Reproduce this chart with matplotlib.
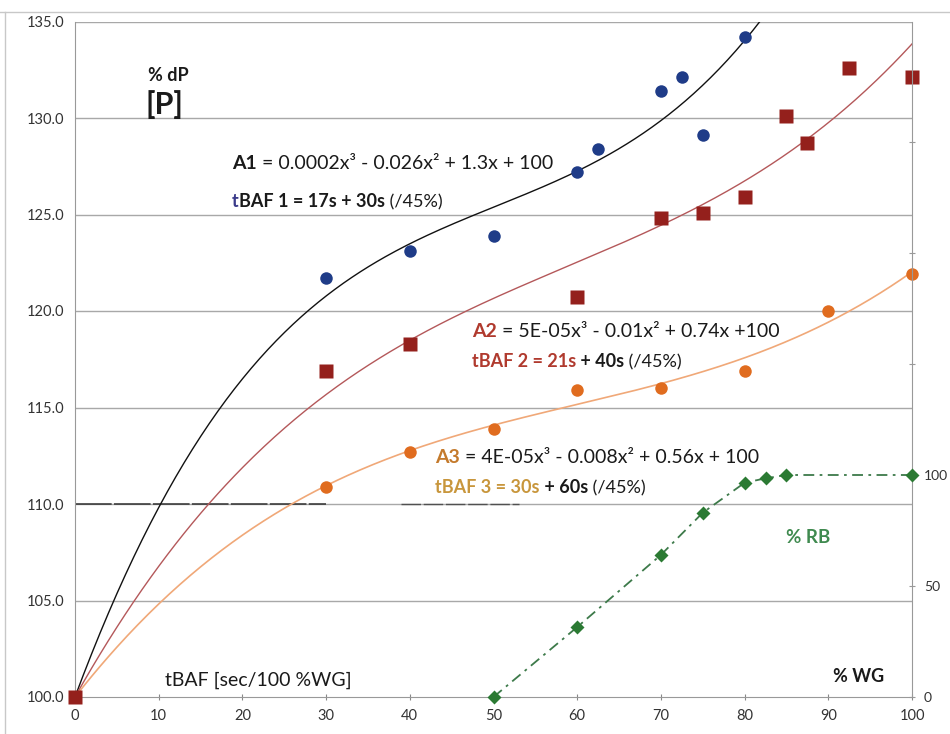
import numpy as np
import matplotlib
matplotlib.use("Agg")
import matplotlib.pyplot as plt

plt.rcParams['font.family'] = ['Lato', 'DejaVu Sans']

# data
wg_1 = [0, 30, 40, 50, 60, 62.5, 70, 72.5, 75, 80]
dp_1 = [100, 121.7, 123.1, 123.9, 127.2, 128.4, 131.4, 132.1, 129.1, 134.2]

wg_2 = [0, 30, 40, 60, 70, 75, 80, 85, 87.5, 92.5, 100]
dp_2 = [100, 116.9, 118.3, 120.7, 124.8, 125.1, 125.9, 130.1, 128.7, 132.6, 132.1]

wg_3 = [0, 30, 40, 50, 60, 70, 80, 90, 100]
dp_3 = [100, 110.9, 112.7, 113.9, 115.9, 116.0, 116.9, 120.0, 121.9]

wg_rb = [50, 60, 70, 75, 80, 82.5, 85, 100]
rb = [0, 31.5, 64, 83, 96.5, 98.5, 100, 100]

x_ticks = list(range(0, 101, 10))
y_ticks = [100, 105, 110, 115, 120, 125, 130, 135]
rb_ticks = [0, 50, 100, 150, 200, 250]
rb_labels = ['0', '50', '100', '', '', '']


def trend(x, y):
    # cubic trendline with intercept fixed at 100 (like excel)
    x = np.array(x, dtype=float)
    y = np.array(y, dtype=float)
    A = np.column_stack([x**3, x**2, x])
    coef = np.linalg.lstsq(A, y - 100, rcond=None)[0]
    xs = np.linspace(0, 100, 400)
    return xs, coef[0]*xs**3 + coef[1]*xs**2 + coef[2]*xs + 100


fig = plt.figure(figsize=(9.5, 7.34), dpi=100)
ax = fig.add_axes([75/950, 1 - 697/734, (912-75)/950, (697-21.5)/734])

grid_col = '#a8a8a8'
for v in y_ticks[1:]:
    ax.axhline(v, color=grid_col, lw=1, zorder=0)
ax.axhline(110, xmin=0, xmax=0.3, color='#303030', lw=1.1, dashes=(24, 1.5), zorder=0.5)
ax.axhline(110, xmin=0.39, xmax=0.53, color='#505050', lw=1.0, dashes=(14, 2), zorder=0.5)

xs, ys = trend(wg_1, dp_1)
ax.plot(xs, ys, color='#111111', lw=1.0, zorder=2)
xs, ys = trend(wg_2, dp_2)
ax.plot(xs, ys, color='#b4585a', lw=1.0, zorder=2)
xs, ys = trend(wg_3, dp_3)
ax.plot(xs, ys, color='#f0a878', lw=1.2, zorder=2)

ax.plot(wg_3, dp_3, 'o', color='#e06c1f', ms=9, mec='none', zorder=3, clip_on=False)
ax.plot(wg_1, dp_1, 'o', color='#1f3c88', ms=9, mec='none', zorder=3, clip_on=False)
ax.plot(wg_2, dp_2, 's', color='#94201c', ms=10.5, mec='none', zorder=4, clip_on=False)

ax.set_xlim(0, 100)
ax.set_ylim(100, 135)
ax.set_xticks(x_ticks)
ax.set_yticks(y_ticks)
ax.set_yticklabels([f'{v:.1f}' for v in y_ticks])
ax.tick_params(axis='y', length=0, labelsize=10.5, labelcolor='#333333', pad=8)
ax.tick_params(axis='x', direction='inout', length=5, color='#888888',
               labelsize=10.5, labelcolor='#333333', pad=6)
for s in ['top', 'right']:
    ax.spines[s].set_visible(False)
ax.spines['left'].set_color('#999999')
ax.spines['bottom'].set_color('#999999')

ax2 = ax.twinx()
ax2.set_ylim(0, 675.5/2.22)
ax2.plot(wg_rb, rb, color='#3d7a4a', lw=1.3, dashes=(6, 3, 1.5, 3), zorder=3)
ax2.plot(wg_rb, rb, 'D', color='#2b7a33', ms=7.5, mec='none', zorder=4, clip_on=False)
ax2.set_yticks(rb_ticks)
ax2.set_yticklabels(rb_labels)
ax2.tick_params(axis='y', direction='inout', length=5, color='#999999',
                labelsize=10, labelcolor='#333333', pad=6)
for s in ['top', 'left', 'bottom']:
    ax2.spines[s].set_visible(False)
ax2.spines['right'].set_color('#999999')


def px(x, y):
    return (x - 75) / 8.37, 100 + (697 - y) / 19.3


def rich(x, y, parts, size):
    xd, yd = px(x, y)
    t = ax.text(xd, yd, parts[0][0], color=parts[0][1], fontweight=parts[0][2],
                fontsize=size, va='baseline', ha='left', zorder=6)
    for s, c, w in parts[1:]:
        t = ax.annotate(s, xy=(1, 0), xycoords=t, color=c, fontweight=w,
                        fontsize=size, va='bottom', ha='left', zorder=6)


dark = '#1a1a1a'
rich(232, 169, [('A1', dark, 'bold'),
                (' = 0.0002x³ - 0.026x² + 1.3x + 100', dark, 'normal')], 14)
rich(232, 207, [('t', '#3a3a8a', 'bold'), ('BAF 1 = 17s + 30s', dark, 'bold'),
                (' (/45%)', dark, 'normal')], 13)
rich(472, 337, [('A2', '#b03a2e', 'bold'),
                (' = 5E-05x³ - 0.01x² + 0.74x +100', dark, 'normal')], 14)
rich(472, 367, [('tBAF 2 = 21s', '#b03a2e', 'bold'), (' + 40s', dark, 'bold'),
                (' (/45%)', dark, 'normal')], 13)
rich(435, 463, [('A3', '#c47a2c', 'bold'),
                (' = 4E-05x³ - 0.008x² + 0.56x + 100', dark, 'normal')], 14)
rich(435, 493, [('tBAF 3 = 30s', '#c8963c', 'bold'), (' + 60s', dark, 'bold'),
                (' (/45%)', dark, 'normal')], 13)

xd, yd = px(148, 81)
ax.text(xd, yd, '% dP', fontsize=13, fontweight='bold', color=dark)
xd, yd = px(145, 114)
ax.text(xd, yd, '[P]', fontsize=22, fontweight='bold', color=dark)
xd, yd = px(786, 543)
ax.text(xd, yd, '% RB', fontsize=13.5, fontweight='bold', color='#3f8a4f')
xd, yd = px(833, 682)
ax.text(xd, yd, '% WG', fontsize=13, fontweight='bold', color=dark)
xd, yd = px(165, 686)
ax.text(xd, yd, 'tBAF [sec/100 %WG]', fontsize=14, color=dark)

# outer frame of the scanned figure
fig.add_artist(plt.Line2D([0, 1], [1 - 12/734, 1 - 12/734], color='#c8c8c8', lw=1))
fig.add_artist(plt.Line2D([5/950, 5/950], [0, 1 - 12/734], color='#c8c8c8', lw=1))

fig.savefig('out.png', dpi=100)
